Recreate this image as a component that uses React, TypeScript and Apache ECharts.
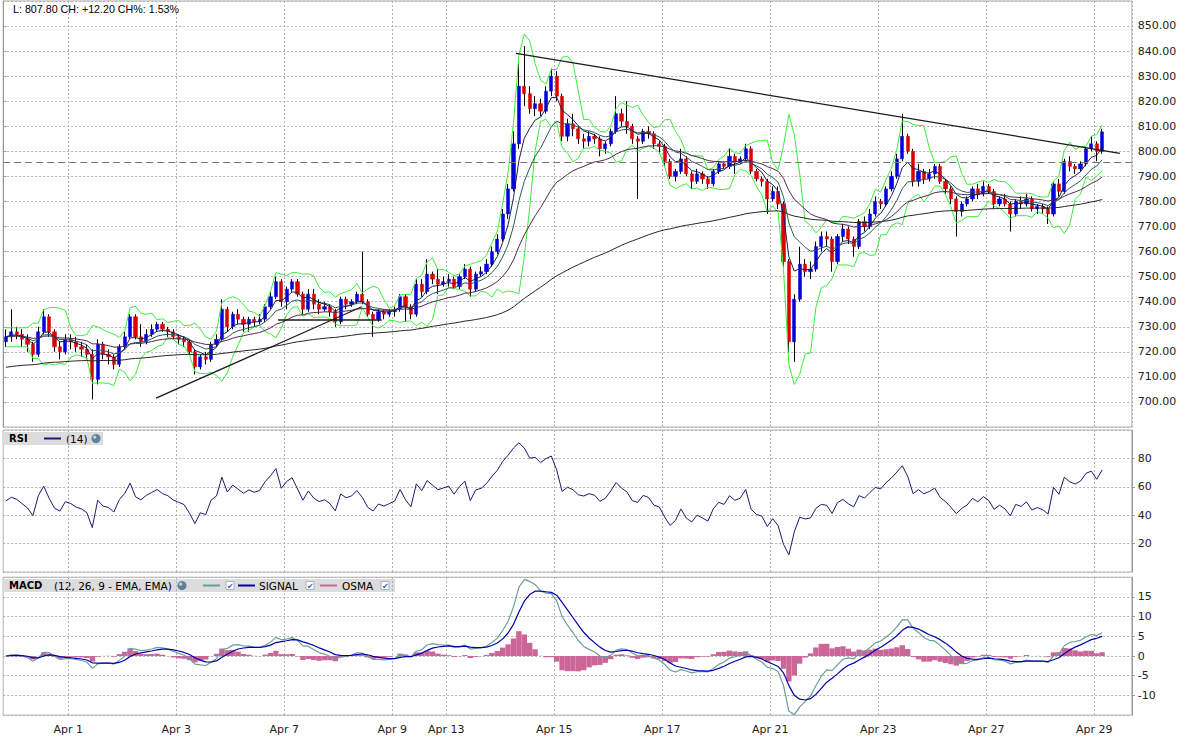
import React, { useEffect, useRef } from 'react';
import * as echarts from 'echarts';

// ---- price data per trading day: [open, close, low, high] ----
const mar30 = [[724,726,722,729],[726,728,724,737]];
const mar31 = [[728,727,725,730],[727,725,722,729],[725,723,720,727],[723,719,716,724],[719,728,718,730],[728,734,727,737],[734,728,726,735],[728,722,720,729],[722,720,717,724],[720,725,719,727]];
const apr01 = [[725,724,721,727],[724,722,720,726],[722,721,718,724],[721,719,717,723],[719,709,701,721],[709,723,707,725],[723,719,717,724],[719,718,715,721],[718,715,713,719],[715,722,714,723]];
const apr02 = [[722,726,721,728],[726,734,725,735],[734,726,725,735],[726,724,722,731],[724,727,723,729],[727,729,726,731],[729,731,728,732],[731,729,728,732],[729,728,726,730],[728,726,725,729]];
const apr03 = [[726,725,723,727],[725,724,722,726],[724,720,719,725],[720,714,711,721],[714,718,713,719],[718,717,715,720],[717,723,716,724],[723,725,722,727],[725,737,724,741],[737,730,728,738]];
const apr06 = [[730,735,729,736],[735,733,731,737],[733,731,728,734],[731,733,728,734],[733,732,730,734],[732,733,731,735],[733,738,732,739],[738,742,737,744],[742,748,741,750],[748,740,738,749]];
const apr07 = [[740,745,737,746],[745,748,744,749],[748,743,742,749],[743,737,735,744],[737,743,736,745],[743,739,737,745],[739,737,735,741],[737,738,736,740],[738,736,734,739],[736,732,730,737]];
const apr08 = [[732,741,731,742],[741,739,737,742],[739,740,738,741],[740,743,739,744],[743,740,739,760],[740,735,734,741],[735,733,726,736],[733,736,732,737],[736,735,733,737],[735,736,734,737]];
const apr09 = [[736,737,734,738],[737,742,736,743],[742,738,732,743],[738,735,733,739],[735,747,734,749],[747,744,742,749],[744,751,743,757],[751,749,747,752],[749,747,743,753],[747,748,746,750]];
const apr13 = [[748,749,746,751],[749,746,745,750],[746,750,745,751],[750,753,749,755],[753,745,742,754],[745,751,744,752],[751,752,750,754],[752,755,751,757],[755,760,754,762],[760,765,759,767]];
const apr14 = [[765,775,764,777],[775,785,773,787],[785,803,784,808],[803,826,801,835],[826,823,818,842],[823,817,815,826],[817,819,814,822],[819,816,814,821],[816,824,815,826],[824,830,822,833]];
const apr15 = [[830,822,820,832],[822,806,804,823],[806,811,804,813],[811,809,806,815],[809,805,803,810],[805,804,801,807],[804,806,802,808],[806,805,803,807],[805,801,798,806],[801,803,799,804]];
const apr16 = [[803,808,802,809],[808,815,807,822],[815,812,810,817],[812,810,807,820],[810,805,803,811],[805,804,781,806],[804,808,803,809],[808,807,805,810],[807,803,801,808],[803,802,799,804]];
const apr17 = [[802,796,794,803],[796,790,789,797],[790,792,788,793],[792,797,791,801],[797,791,790,798],[791,788,785,792],[788,791,787,793],[791,789,787,792],[789,787,785,790],[787,792,786,793]];
const apr20 = [[792,795,791,796],[795,794,793,796],[794,798,793,801],[798,796,791,799],[796,797,795,798],[797,801,796,803],[801,792,791,802],[792,789,788,793],[789,788,786,790],[788,781,775,789]];
const apr21 = [[781,784,780,786],[784,779,777,786],[779,756,754,780],[756,724,720,757],[724,741,716,743],[741,755,740,762],[755,752,750,757],[752,753,749,756],[753,762,752,764],[762,766,760,768]];
const apr22 = [[766,765,762,768],[765,756,752,766],[756,766,755,767],[766,769,764,771],[769,765,763,770],[765,762,758,766],[762,772,761,773],[772,770,768,774],[770,775,769,777],[775,780,774,782]];
const apr23 = [[780,779,777,781],[779,785,778,786],[785,790,784,792],[790,797,789,799],[797,806,796,815],[806,800,799,807],[800,788,786,801],[788,792,786,795],[792,789,787,793],[789,791,788,793]];
const apr24 = [[791,794,789,795],[794,788,787,795],[788,785,783,789],[785,781,779,786],[781,776,766,782],[776,779,774,780],[779,781,778,782],[781,785,780,786],[785,783,781,787],[783,786,782,788]];
const apr27 = [[786,784,783,787],[784,779,777,785],[779,781,778,782],[781,779,778,783],[779,775,768,780],[775,780,774,781],[780,779,777,782],[779,781,778,783],[781,777,776,782],[777,778,775,779]];
const apr28 = [[778,777,775,779],[777,775,771,778],[775,787,774,788],[787,784,782,789],[784,796,783,797],[796,794,792,798],[794,793,791,795],[793,795,792,796],[795,801,794,802],[801,803,800,806]];
const apr29 = [[803,800,796,804],[800,807.8,799,809]];

const dayNames = ['Mar 30','Mar 31','Apr 1','Apr 2','Apr 3','Apr 6','Apr 7','Apr 8','Apr 9','Apr 13','Apr 14','Apr 15','Apr 16','Apr 17','Apr 20','Apr 21','Apr 22','Apr 23','Apr 24','Apr 27','Apr 28','Apr 29'];
const dayBars = [mar30,mar31,apr01,apr02,apr03,apr06,apr07,apr08,apr09,apr13,apr14,apr15,apr16,apr17,apr20,apr21,apr22,apr23,apr24,apr27,apr28,apr29];
const shownDays = ['Apr 1','Apr 3','Apr 7','Apr 9','Apr 13','Apr 15','Apr 17','Apr 21','Apr 23','Apr 27','Apr 29'];

const prevClose = 795.6;
const headerText = 'L: 807.80 CH: +12.20 CH%: 1.53%';
// drawn trend lines, x in bar-slot units
const resistLine = [[94.96, 839.1], [206.8, 799.2]];
const supportLine = [[28.3, 701.5], [66.4, 738.0]];
const flatLine = [[50.9, 732.7], [70.1, 732.7]];
// moving-average seeds read at the left edge
const slowSeed = 713.6;
const midSeed = 726;

const SLOTS = 209;
const SLOT_W = 5.4;
const LEFT = 3.2;

const candles: number[][] = [];
const categories: string[] = [];
const labelIdx = new Set<number>();
dayBars.forEach((d, k) => d.forEach((c, j) => {
  if (j === 0 && shownDays.includes(dayNames[k])) labelIdx.add(categories.length);
  categories.push(dayNames[k] + '|' + j);
  candles.push(c);
}));
while (categories.length < SLOTS) categories.push('|x' + categories.length);

const closes = candles.map((c) => c[1]);
const bodies = candles.map(([o, c]) => [o, c, Math.min(o, c), Math.max(o, c)]);

function ema(src: number[], period: number, seed?: number) {
  const a = 2 / (period + 1);
  let prev = seed === undefined ? src[0] : seed;
  return src.map((v, i) => {
    if (!(i === 0 && seed === undefined)) prev = prev + a * (v - prev);
    return +prev.toFixed(3);
  });
}
function bands(src: number[], period: number, mult: number) {
  const up: number[] = [], lo: number[] = [];
  src.forEach((_, i) => {
    const w = src.slice(Math.max(0, i - period + 1), Math.max(i, period - 1) + 1);
    const m = w.reduce((s, v) => s + v, 0) / w.length;
    const sd = Math.sqrt(w.reduce((s, v) => s + (v - m) * (v - m), 0) / w.length);
    up.push(+(m + mult * sd).toFixed(3));
    lo.push(+(m - mult * sd).toFixed(3));
  });
  return [up, lo];
}
function rsi(src: number[], p: number, seedMove: number) {
  let ag = seedMove, al = seedMove;
  return src.map((v, i) => {
    if (i > 0) {
      const d = v - src[i - 1];
      ag = (ag * (p - 1) + Math.max(d, 0)) / p;
      al = (al * (p - 1) + Math.max(-d, 0)) / p;
    }
    return al === 0 ? 100 : +(100 - 100 / (1 + ag / al)).toFixed(2);
  });
}

const maFast = ema(closes, 5);
const maMid1 = ema(closes, 10);
const maMid2 = ema(closes, 25, midSeed);
const maSlow = ema(closes, 100, slowSeed);
const [bbUp, bbLo] = bands(closes, 5, 2.2);
const rsiVals = rsi(closes, 10, 2);
const e1 = ema(closes, 6), e2 = ema(closes, 13);
const macd = e1.map((v, i) => +(v - e2[i]).toFixed(3));
const signal = ema(macd, 5);
const osma = macd.map((v, i) => +(v - signal[i]).toFixed(3));

const FONT = 'DejaVu Sans';
const gridLine = { color: '#b0b0b0', type: [2, 2] as number[], width: 1 };

const catAxis = (gridIndex: number, showLabel: boolean) => ({
  type: 'category', gridIndex, data: categories, boundaryGap: true,
  axisLine: { show: false }, axisTick: { show: false },
  axisLabel: {
    show: showLabel, interval: (i: number) => labelIdx.has(i),
    formatter: (v: string) => v.split('|')[0], color: '#222', fontFamily: FONT, fontSize: 11, margin: 9, padding: [0, 5, 0, 0],
  },
  splitLine: { show: true, interval: (i: number) => labelIdx.has(i), lineStyle: gridLine },
});
const valAxis = (gridIndex: number, min: number, max: number, interval: number, fmt: (v: number) => string) => ({
  type: 'value', gridIndex, position: 'right', min, max, interval,
  axisLine: { show: true, lineStyle: { color: '#999' } },
  axisTick: { show: true, length: 3, lineStyle: { color: '#999' } },
  axisLabel: { formatter: fmt, showMinLabel: false, showMaxLabel: false, color: '#222', fontFamily: FONT, fontSize: 11, margin: 6 },
  splitLine: { show: true, lineStyle: gridLine },
});

const lineS = (data: any[], color: string, xi: number, yi: number, width = 1, z = 3) => ({
  type: 'line', data, xAxisIndex: xi, yAxisIndex: yi, showSymbol: false, symbol: 'none', silent: true, z,
  lineStyle: { color, width }, emphasis: { disabled: true },
});

const gridW = SLOTS * SLOT_W;

const checkbox = (x: number, y: number) => ([
  { type: 'rect', shape: { x, y, width: 8, height: 8 }, style: { fill: '#fff', stroke: '#a8b0c0', lineWidth: 1 } },
  { type: 'text', style: { text: '✔', x: x + 1, y: y + 4.5, font: '8px DejaVu Sans', fill: '#1e5ed6', verticalAlign: 'middle' } },
]);
const globe = (x: number, y: number) => ([
  { type: 'circle', shape: { cx: x, cy: y, r: 4.5 }, style: { fill: '#5f7f9a' } },
  { type: 'circle', shape: { cx: x - 1.3, cy: y - 1.3, r: 1.6 }, style: { fill: '#c4d4e2' } },
]);
const txt = (text: string, x: number, y: number, font: string, fill = '#000') => ({
  type: 'text', style: { text, x, y, font, fill, verticalAlign: 'middle' },
});
const seg = (x1: number, x2: number, y: number, stroke: string) => ({
  type: 'line', shape: { x1, y1: y, x2, y2: y }, style: { stroke, lineWidth: 2 },
});

const option: any = {
  animation: false,
  backgroundColor: '#fff',
  grid: [
    { left: LEFT, top: 0.93, width: gridW, height: 426.1, show: true, borderColor: '#b4b4b4', borderWidth: 1 },
    { left: LEFT, top: 430, width: gridW, height: 142, show: true, borderColor: '#b4b4b4', borderWidth: 1 },
    { left: LEFT, top: 577.2, width: gridW, height: 137.9, show: true, borderColor: '#b4b4b4', borderWidth: 1 },
  ],
  xAxis: [
    catAxis(0, false), catAxis(1, false), catAxis(2, true),
    { type: 'value', gridIndex: 0, min: 0, max: SLOTS, show: false },
  ],
  yAxis: [
    valAxis(0, 690, 860, 10, (v) => v.toFixed(2)),
    valAxis(1, 0, 100, 20, (v) => String(v)),
    valAxis(2, -15, 20, 5, (v) => String(v)),
  ],
  series: [
    {
      type: 'candlestick', data: candles, xAxisIndex: 0, yAxisIndex: 0, barWidth: 1, silent: true, z: 2,
      itemStyle: { color: '#000', color0: '#000', borderColor: '#000', borderColor0: '#000', borderWidth: 1 },
      markLine: {
        silent: true, symbol: ['none', 'none'], label: { show: false },
        lineStyle: { color: '#777', type: [7, 4], width: 1 }, data: [{ yAxis: prevClose }],
      },
    },
    {
      type: 'candlestick', data: bodies, xAxisIndex: 0, yAxisIndex: 0, barWidth: 3.6, silent: true, z: 2,
      itemStyle: { color: '#0000dd', color0: '#dd0000', borderColor: '#0000dd', borderColor0: '#dd0000', borderWidth: 0.5 },
    },
    lineS(bbUp, '#3cec3c', 0, 0),
    lineS(bbLo, '#3cec3c', 0, 0),
    lineS(maSlow, '#262626', 0, 0),
    lineS(maMid2, '#52284e', 0, 0),
    lineS(maMid1, '#2c5a5a', 0, 0),
    lineS(maFast, '#1c1c58', 0, 0),
    lineS(resistLine, '#1a1a1a', 3, 0, 1.3, 4),
    lineS(supportLine, '#1a1a1a', 3, 0, 1.3, 4),
    lineS(flatLine, '#1a1a1a', 3, 0, 1.3, 4),
    lineS(rsiVals, '#1a1a72', 1, 1),
    { type: 'bar', data: osma, xAxisIndex: 2, yAxisIndex: 2, barCategoryGap: '0%', silent: true, itemStyle: { color: '#cc6699' } },
    lineS(macd, '#6a9e9a', 2, 2, 1.2),
    lineS(signal, '#0000aa', 2, 2, 1.2),
  ],
  graphic: [
    txt(headerText, 13, 9, '10.7px Liberation Sans'),
    { type: 'rect', shape: { x: 2, y: 432, width: 101, height: 13 }, style: { fill: '#dcdcdc' } },
    txt('RSI', 9, 438.5, 'bold 10px DejaVu Sans'),
    seg(44, 61, 438.5, '#1a1a72'),
    txt('(14)', 66, 438.5, '10.5px DejaVu Sans'),
    ...globe(96, 438.5),
    { type: 'rect', shape: { x: 2, y: 579, width: 393, height: 13 }, style: { fill: '#dcdcdc' } },
    txt('MACD', 9, 585.5, 'bold 10px DejaVu Sans'),
    txt('(12, 26, 9 - EMA, EMA)', 54, 585.5, '10.5px DejaVu Sans'),
    ...globe(182, 585.5),
    seg(203, 220, 585.5, '#6a9e9a'),
    ...checkbox(226, 581.5),
    seg(238, 255, 585.5, '#0000aa'),
    txt('SIGNAL', 259, 585.5, '10.5px DejaVu Sans'),
    ...checkbox(306, 581.5),
    seg(320, 337, 585.5, '#cc6699'),
    txt('OSMA', 342, 585.5, '10.5px DejaVu Sans'),
    ...checkbox(381, 581.5),
  ],
};

export default function App() {
  const ref = useRef<HTMLDivElement>(null);
  useEffect(() => {
    const chart = echarts.init(ref.current as HTMLDivElement, null, { renderer: 'svg' });
    chart.setOption(option);
    return () => chart.dispose();
  }, []);
  return <div ref={ref} style={{ position: 'fixed', left: 0, top: 0, width: 1186, height: 744, background: '#fff' }} />;
}
